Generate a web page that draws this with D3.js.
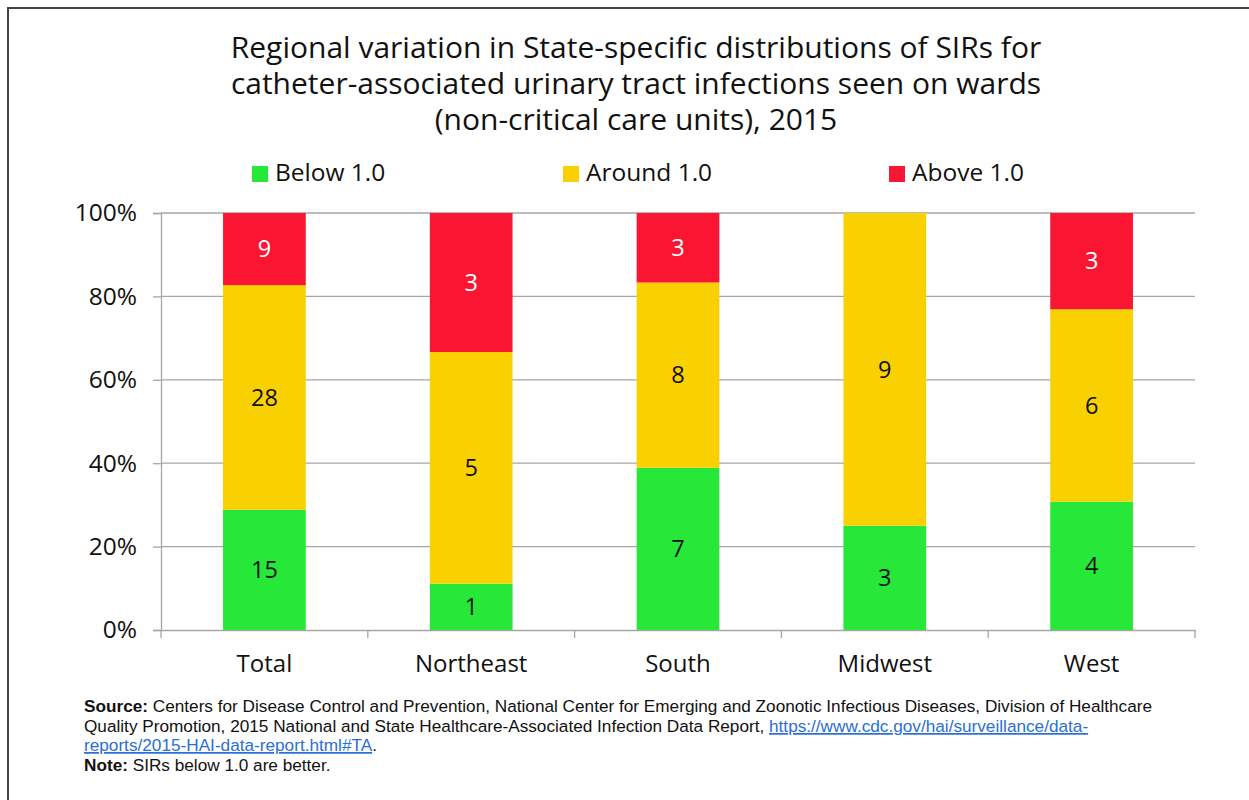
<!DOCTYPE html>
<html>
<head>
<meta charset="utf-8">
<script src="https://cdn.jsdelivr.net/npm/d3@7"></script>
<style>
  body { margin: 0; background: #fff; }
  svg { display: block; }
  .foot { font-family: "Liberation Sans", Arial, sans-serif; font-size: 17.2px; fill: #111; }
  .link { fill: #2a6fd6; text-decoration: underline; }
</style>
</head>
<body>
<svg id="viz"></svg>
<script>
// ---------------------------
// Data
// ---------------------------

const regions = ["Total", "Northeast", "South", "Midwest", "West"];
const seriesNames = ["Below 1.0", "Around 1.0", "Above 1.0"];
const below  = [15, 1, 7, 3, 4];
const around = [28, 5, 8, 9, 6];
const above  = [9, 3, 3, 0, 3];
const yTicks = [0, 0.2, 0.4, 0.6, 0.8, 1.0];
const colors = ["#27E838", "#F9D000", "#FA1632"];

const titleLines = [
    "Regional variation in State-specific distributions of SIRs for",
    "catheter-associated urinary tract infections seen on wards",
    "(non-critical care units), 2015"
];

// ---------------------------
// Create SVG
// ---------------------------

const width = 1249;
const height = 800;

const svg = d3.select("#viz")
    .attr("width", width)
    .attr("height", height);

svg.append("rect")
    .attr("x", 8).attr("y", 8)
    .attr("width", width + 10).attr("height", height + 10)
    .attr("fill", "none")
    .attr("stroke", "#444")
    .attr("stroke-width", 2);

const font = "'Open Sans', 'Noto Sans', sans-serif";

// title
svg.append("text")
    .attr("x", 636)
    .attr("y", 58)
    .attr("text-anchor", "middle")
    .style("font-family", font)
    .style("font-size", "30px")
    .attr("fill", "#111")
    .selectAll("tspan")
    .data(titleLines)
    .join("tspan")
    .attr("x", 636)
    .attr("dy", (d, i) => i === 0 ? 0 : 36)
    .text(d => d);

// ---------------------------
// Scales
// ---------------------------

const plot = {left: 161, right: 1195, top: 213, bottom: 630};

const x = d3.scaleBand()
    .domain(regions)
    .range([plot.left, plot.right])
    .paddingInner(0.6)
    .paddingOuter(0.3);

const y = d3.scaleLinear()
    .domain([0, 1])
    .range([plot.bottom, plot.top]);

// gridlines
svg.append("g")
    .selectAll("line")
    .data(yTicks.slice(1))
    .join("line")
    .attr("x1", plot.left).attr("x2", plot.right)
    .attr("y1", d => y(d)).attr("y2", d => y(d))
    .attr("stroke", "#a6a6a6")
    .attr("stroke-width", 1.3);

// y axis
const yAxis = svg.append("g")
    .attr("transform", `translate(${plot.left},0)`)
    .call(d3.axisLeft(y).tickValues(yTicks).tickFormat(d3.format(".0%")).tickSize(8).tickPadding(16));

yAxis.select(".domain").attr("stroke", "#a6a6a6").attr("stroke-width", 1.3);
yAxis.selectAll(".tick line").attr("stroke", "#a6a6a6").attr("stroke-width", 1.3);
yAxis.selectAll("text")
    .style("font-family", font)
    .style("font-size", "24.5px")
    .attr("fill", "#111");

// x axis
const xAxis = svg.append("g")
    .attr("transform", `translate(0,${plot.bottom})`)
    .call(d3.axisBottom(x).tickSize(0).tickPadding(0));

xAxis.select(".domain").attr("stroke", "#a6a6a6").attr("stroke-width", 1.3);
xAxis.selectAll("text")
    .attr("y", 42)
    .attr("dy", 0)
    .style("font-family", font)
    .style("font-size", "24px")
    .attr("fill", "#111");

// category separator ticks
svg.append("g")
    .selectAll("line")
    .data(d3.range(regions.length + 1))
    .join("line")
    .attr("x1", i => plot.left + i * (plot.right - plot.left) / regions.length)
    .attr("x2", i => plot.left + i * (plot.right - plot.left) / regions.length)
    .attr("y1", plot.bottom).attr("y2", plot.bottom + 8)
    .attr("stroke", "#a6a6a6")
    .attr("stroke-width", 1.3);

// ---------------------------
// Stacked bars
// ---------------------------

const rows = regions.map((r, i) => {
    const total = below[i] + around[i] + above[i];
    return {
        region: r,
        "Below 1.0": below[i] / total,
        "Around 1.0": around[i] / total,
        "Above 1.0": above[i] / total,
        counts: [below[i], around[i], above[i]]
    };
});

const stacked = d3.stack().keys(seriesNames)(rows);

const layers = svg.append("g")
    .selectAll("g")
    .data(stacked)
    .join("g")
    .attr("fill", (d, i) => colors[i]);

layers.selectAll("rect")
    .data(d => d)
    .join("rect")
    .attr("x", d => x(d.data.region))
    .attr("width", x.bandwidth())
    .attr("y", d => y(d[1]))
    .attr("height", d => y(d[0]) - y(d[1]));

layers.each(function(layer, li) {
    d3.select(this).selectAll("text")
        .data(layer.filter(d => d.data.counts[li] > 0))
        .join("text")
        .attr("x", d => x(d.data.region) + x.bandwidth() / 2)
        .attr("y", d => (y(d[0]) + y(d[1])) / 2)
        .attr("dy", "0.35em")
        .attr("text-anchor", "middle")
        .style("font-family", font)
        .style("font-size", "23.5px")
        .attr("fill", li === 2 ? "#fff" : "#111")
        .text(d => d.data.counts[li]);
});

// ---------------------------
// Legend
// ---------------------------

const legendX = [252, 563, 889];

const legend = svg.append("g")
    .selectAll("g")
    .data(seriesNames)
    .join("g")
    .attr("transform", (d, i) => `translate(${legendX[i]},166)`);

legend.append("rect")
    .attr("width", 16).attr("height", 16)
    .attr("fill", (d, i) => colors[i]);

legend.append("text")
    .attr("x", 23).attr("y", 15)
    .style("font-family", font)
    .style("font-size", "24.5px")
    .attr("fill", "#111")
    .text(d => d);

// ---------------------------
// Footer
// ---------------------------

const foot = svg.append("text").attr("class", "foot").attr("x", 84).attr("y", 712);

foot.append("tspan").style("font-weight", "bold").text("Source:");
foot.append("tspan").text(" Centers for Disease Control and Prevention, National Center for Emerging and Zoonotic Infectious Diseases, Division of Healthcare");

const foot2 = svg.append("text").attr("class", "foot").attr("x", 84).attr("y", 732);
foot2.append("tspan").text("Quality Promotion, 2015 National and State Healthcare-Associated Infection Data Report, ");
foot2.append("tspan").attr("class", "link").text("https://www.cdc.gov/hai/surveillance/data-");

const foot3 = svg.append("text").attr("class", "foot").attr("x", 84).attr("y", 751);
foot3.append("tspan").attr("class", "link").text("reports/2015-HAI-data-report.html#TA");
foot3.append("tspan").text(".");

const foot4 = svg.append("text").attr("class", "foot").attr("x", 84).attr("y", 771);
foot4.append("tspan").style("font-weight", "bold").text("Note:");
foot4.append("tspan").text(" SIRs below 1.0 are better.");
</script>
</body>
</html>
